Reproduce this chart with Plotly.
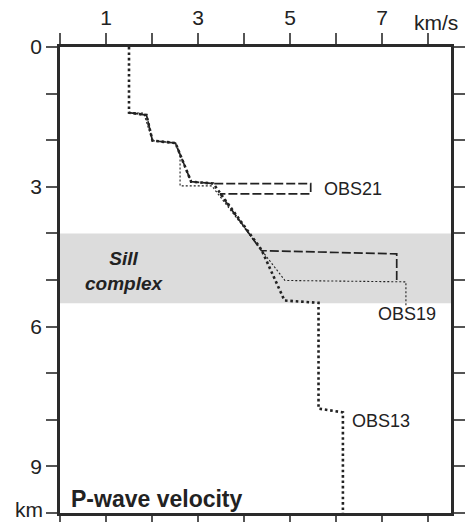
import plotly.graph_objects as go

# P-wave velocity (km/s) vs depth (km) profiles at three ocean-bottom seismometers
obs21_v = [1.50, 1.88, 2.01, 2.51, 2.85, 3.33, 5.45, 5.45, 3.48, 4.38, 7.32, 7.32]
obs21_d = [1.41, 1.46, 2.01, 2.06, 2.89, 2.93, 2.93, 3.15, 3.15, 4.37, 4.44, 5.06]

obs19_v = [1.50, 1.82, 2.01, 2.51, 2.61, 2.61, 3.30, 4.38, 4.89, 7.52, 7.52]
obs19_d = [1.41, 1.42, 2.01, 2.06, 2.35, 2.98, 2.98, 4.35, 5.01, 5.04, 5.55]

obs13_v = [1.50, 1.50, 1.88, 2.01, 2.51, 2.85, 3.33, 4.38, 4.88, 5.62, 5.62, 6.15, 6.15]
obs13_d = [0.00, 1.41, 1.46, 2.01, 2.06, 2.89, 2.93, 4.35, 5.44, 5.49, 7.76, 7.84, 10.0]

sill_top, sill_base = 4.0, 5.5

x_ticks = [0, 1, 2, 3, 4, 5, 6, 7, 8]
x_labels = ["", "1", "", "3", "", "5", "", "7", ""]
y_ticks = [0, 1, 2, 3, 4, 5, 6, 7, 8, 9, 10]
y_labels = ["0", "", "", "3", "", "", "6", "", "", "9", ""]

ink = "#222222"
font = "Liberation Sans, Arial, sans-serif"

fig = go.Figure()

fig.add_shape(type="rect", xref="x", yref="y", x0=0, x1=8.5,
              y0=sill_top, y1=sill_base, fillcolor="#dcdcdc",
              line=dict(width=0), layer="below")

fig.add_trace(go.Scatter(x=obs21_v, y=obs21_d, mode="lines",
                         line=dict(color=ink, width=1.7, dash="9px,3px"),
                         hoverinfo="skip", showlegend=False))
fig.add_trace(go.Scatter(x=obs19_v, y=obs19_d, mode="lines",
                         line=dict(color=ink, width=1.1, dash="2px,2px"),
                         hoverinfo="skip", showlegend=False))
fig.add_trace(go.Scatter(x=obs13_v, y=obs13_d, mode="lines",
                         line=dict(color=ink, width=2.6, dash="2.6px,2.8px"),
                         hoverinfo="skip", showlegend=False))

label_font = dict(family=font, size=18, color=ink)
fig.add_annotation(x=5.7, y=3.04, text="OBS21", showarrow=False,
                   xanchor="left", yanchor="middle", font=label_font)
fig.add_annotation(x=6.88, y=5.74, text="OBS19", showarrow=False,
                   xanchor="left", yanchor="middle", font=label_font)
fig.add_annotation(x=6.3, y=8.03, text="OBS13", showarrow=False,
                   xanchor="left", yanchor="middle", font=label_font)
fig.add_annotation(x=1.41, y=4.8, text="<b><i>Sill<br>complex</i></b>",
                   showarrow=False, xanchor="center", yanchor="middle",
                   font=dict(family=font, size=19, color=ink))
fig.add_annotation(x=0.2, y=9.69, text="<b>P-wave velocity</b>",
                   showarrow=False, xanchor="left", yanchor="middle",
                   font=dict(family=font, size=23, color=ink))
fig.add_annotation(x=8.17, y=1.0536, xref="x", yref="paper", text="km/s",
                   showarrow=False, xanchor="center", yanchor="middle",
                   font=dict(family=font, size=21, color=ink))
# depth unit sits in place of the last depth tick label, on the page bottom
fig.add_annotation(x=-0.042, y=-0.0193, xref="paper", yref="paper", text="km",
                   showarrow=False, xanchor="right", yanchor="bottom",
                   borderpad=0, font=dict(family=font, size=21, color=ink))

axis_common = dict(showline=True, linewidth=2.5, linecolor="#2a2a2a",
                   mirror="ticks", ticks="outside", ticklen=11,
                   tickwidth=1.5, tickcolor="#555555", showgrid=False,
                   zeroline=False, automargin=False,
                   tickfont=dict(family=font, size=21, color=ink))

fig.update_xaxes(range=[0, 8.5], side="top", tickmode="array",
                 tickvals=x_ticks, ticktext=x_labels, **axis_common)
fig.update_yaxes(range=[10, 0], tickmode="array",
                 tickvals=y_ticks, ticktext=y_labels, **axis_common)

fig.update_layout(width=467, height=522,
                  margin=dict(l=60, r=16, t=47, b=9, autoexpand=False),
                  plot_bgcolor="white", paper_bgcolor="white",
                  font=dict(family=font, color=ink))

fig.write_html("out.html")
